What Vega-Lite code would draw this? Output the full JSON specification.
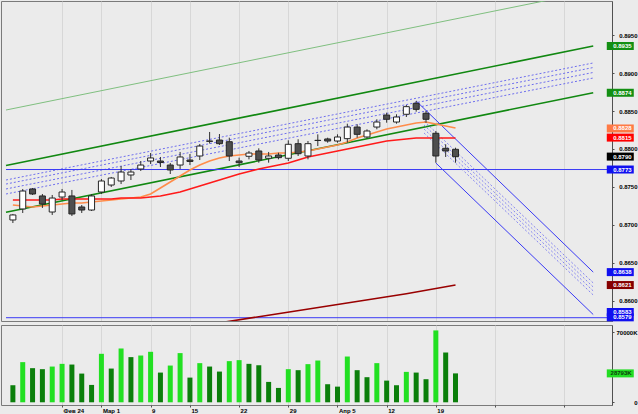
{
  "$schema": "https://vega.github.io/schema/vega-lite/v6.json",
  "background": "#ebebeb",
  "padding": 0,
  "spacing": 4,
  "bounds": "flush",
  "config": {
    "view": {"stroke": "#7a7a7a", "strokeWidth": 1},
    "font": "Liberation Sans",
    "axis": {"labelFont": "Liberation Sans", "labelFontWeight": "bold", "labelFontSize": 6, "labelColor": "#000000", "labelOverlap": false}
  },
  "resolve": {"scale": {"color": "independent"}},
  "datasets": {
    "candles": [
      {"i":0,"o":0.87066,"h":0.87145,"l":0.87026,"c":0.87132,"v":17000,"vd":"down","maf":0.87263,"mas":0.87329},
      {"i":1,"o":0.87211,"h":0.87474,"l":0.87158,"c":0.87447,"v":40000,"vd":"up","maf":0.87250,"mas":0.87329},
      {"i":2,"o":0.87474,"h":0.87487,"l":0.87395,"c":0.87408,"v":34000,"vd":"down","maf":0.87237,"mas":0.87329},
      {"i":3,"o":0.87382,"h":0.87408,"l":0.87224,"c":0.87276,"v":33000,"vd":"down","maf":0.87250,"mas":0.87329},
      {"i":4,"o":0.87171,"h":0.87395,"l":0.87132,"c":0.87355,"v":35600,"vd":"up","maf":0.87263,"mas":0.87329},
      {"i":5,"o":0.87368,"h":0.87474,"l":0.87329,"c":0.87434,"v":38300,"vd":"up","maf":0.87276,"mas":0.87342},
      {"i":6,"o":0.87382,"h":0.87461,"l":0.87118,"c":0.87145,"v":37600,"vd":"down","maf":0.87289,"mas":0.87342},
      {"i":7,"o":0.87237,"h":0.87263,"l":0.87158,"c":0.87197,"v":28600,"vd":"down","maf":0.87289,"mas":0.87342},
      {"i":8,"o":0.87197,"h":0.87408,"l":0.87184,"c":0.87382,"v":17300,"vd":"down","maf":0.87303,"mas":0.87342},
      {"i":9,"o":0.87434,"h":0.87605,"l":0.87408,"c":0.87579,"v":48300,"vd":"up","maf":0.87316,"mas":0.87342},
      {"i":10,"o":0.87526,"h":0.87632,"l":0.87500,"c":0.87618,"v":33600,"vd":"down","maf":0.87329,"mas":0.87342},
      {"i":11,"o":0.87579,"h":0.87776,"l":0.87539,"c":0.87697,"v":53600,"vd":"up","maf":0.87342,"mas":0.87355},
      {"i":12,"o":0.87658,"h":0.87737,"l":0.87592,"c":0.87697,"v":45000,"vd":"down","maf":0.87355,"mas":0.87355},
      {"i":13,"o":0.87737,"h":0.87842,"l":0.87711,"c":0.87789,"v":46600,"vd":"up","maf":0.87368,"mas":0.87355},
      {"i":14,"o":0.87842,"h":0.87947,"l":0.87803,"c":0.87882,"v":50300,"vd":"up","maf":0.87408,"mas":0.87368},
      {"i":15,"o":0.87842,"h":0.87895,"l":0.87763,"c":0.87822,"v":29600,"vd":"down","maf":0.87487,"mas":0.87382},
      {"i":16,"o":0.87789,"h":0.87816,"l":0.87671,"c":0.87724,"v":36600,"vd":"up","maf":0.87566,"mas":0.87408},
      {"i":17,"o":0.87789,"h":0.87961,"l":0.87737,"c":0.87895,"v":49000,"vd":"up","maf":0.87645,"mas":0.87434},
      {"i":18,"o":0.87855,"h":0.87934,"l":0.87789,"c":0.87836,"v":24600,"vd":"down","maf":0.87724,"mas":0.87474},
      {"i":19,"o":0.87908,"h":0.88066,"l":0.87855,"c":0.88039,"v":39000,"vd":"up","maf":0.87789,"mas":0.87513},
      {"i":20,"o":0.88105,"h":0.88224,"l":0.88072,"c":0.88101,"v":35600,"vd":"down","maf":0.87842,"mas":0.87553},
      {"i":21,"o":0.88118,"h":0.88197,"l":0.88053,"c":0.88070,"v":30600,"vd":"down","maf":0.87882,"mas":0.87592},
      {"i":22,"o":0.88096,"h":0.88149,"l":0.87842,"c":0.87908,"v":41000,"vd":"up","maf":0.87908,"mas":0.87632},
      {"i":23,"o":0.87842,"h":0.87886,"l":0.87763,"c":0.87820,"v":42000,"vd":"up","maf":0.87921,"mas":0.87671},
      {"i":24,"o":0.87904,"h":0.87974,"l":0.87864,"c":0.87947,"v":38300,"vd":"down","maf":0.87934,"mas":0.87704},
      {"i":25,"o":0.87974,"h":0.88009,"l":0.87820,"c":0.87855,"v":37000,"vd":"down","maf":0.87934,"mas":0.87737},
      {"i":26,"o":0.87878,"h":0.87961,"l":0.87820,"c":0.87908,"v":20300,"vd":"down","maf":0.87934,"mas":0.87763},
      {"i":27,"o":0.87921,"h":0.87951,"l":0.87864,"c":0.87886,"v":14300,"vd":"down","maf":0.87947,"mas":0.87789},
      {"i":28,"o":0.87878,"h":0.88114,"l":0.87842,"c":0.88062,"v":33000,"vd":"up","maf":0.87947,"mas":0.87816},
      {"i":29,"o":0.88070,"h":0.88128,"l":0.87908,"c":0.87938,"v":32000,"vd":"down","maf":0.87961,"mas":0.87855},
      {"i":30,"o":0.87908,"h":0.88105,"l":0.87864,"c":0.88070,"v":38000,"vd":"up","maf":0.87974,"mas":0.87895},
      {"i":31,"o":0.88114,"h":0.88193,"l":0.88039,"c":0.88112,"v":41600,"vd":"up","maf":0.88000,"mas":0.87921},
      {"i":32,"o":0.88132,"h":0.88149,"l":0.88083,"c":0.88105,"v":18000,"vd":"down","maf":0.88026,"mas":0.87947},
      {"i":33,"o":0.88105,"h":0.88193,"l":0.88083,"c":0.88158,"v":15600,"vd":"down","maf":0.88053,"mas":0.87974},
      {"i":34,"o":0.88136,"h":0.88333,"l":0.88083,"c":0.88289,"v":45600,"vd":"up","maf":0.88092,"mas":0.88000},
      {"i":35,"o":0.88289,"h":0.88325,"l":0.88149,"c":0.88193,"v":32000,"vd":"down","maf":0.88145,"mas":0.88026},
      {"i":36,"o":0.88158,"h":0.88259,"l":0.88141,"c":0.88237,"v":25000,"vd":"down","maf":0.88184,"mas":0.88053},
      {"i":37,"o":0.88289,"h":0.88391,"l":0.88259,"c":0.88355,"v":39000,"vd":"up","maf":0.88224,"mas":0.88079},
      {"i":38,"o":0.88447,"h":0.88478,"l":0.88346,"c":0.88391,"v":21600,"vd":"down","maf":0.88263,"mas":0.88105},
      {"i":39,"o":0.88355,"h":0.88457,"l":0.88333,"c":0.88421,"v":17000,"vd":"down","maf":0.88289,"mas":0.88118},
      {"i":40,"o":0.88457,"h":0.88579,"l":0.88421,"c":0.88557,"v":30300,"vd":"up","maf":0.88316,"mas":0.88132},
      {"i":41,"o":0.88601,"h":0.88632,"l":0.88491,"c":0.88522,"v":29600,"vd":"down","maf":0.88342,"mas":0.88145},
      {"i":42,"o":0.88470,"h":0.88500,"l":0.88346,"c":0.88391,"v":23000,"vd":"down","maf":0.88355,"mas":0.88145},
      {"i":43,"o":0.88207,"h":0.88237,"l":0.87820,"c":0.87908,"v":71600,"vd":"up","maf":0.88329,"mas":0.88145},
      {"i":44,"o":0.88009,"h":0.88062,"l":0.87895,"c":0.87974,"v":49600,"vd":"down","maf":0.88303,"mas":0.88145},
      {"i":45,"o":0.87996,"h":0.88017,"l":0.87820,"c":0.87899,"v":28793,"vd":"down","maf":0.88276,"mas":0.88145}
    ],
    "malong": [
      {"i":17,"p":0.85632},{"i":25,"p":0.85793},{"i":33,"p":0.85955},{"i":40,"p":0.86096},{"i":45,"p":0.86210}
    ],
    "lines": [
      {"id":"tl","k":"tl","i":-0.7,"p":0.88513},{"id":"tl","k":"tl","i":59,"p":0.90079},
      {"id":"gu","k":"gc","i":-0.7,"p":0.87782},{"id":"gu","k":"gc","i":59,"p":0.89355},
      {"id":"gl","k":"gc","i":-0.7,"p":0.87167},{"id":"gl","k":"gc","i":59,"p":0.88741},
      {"id":"bd1","k":"bd","i":-0.7,"p":0.87592},{"id":"bd1","k":"bd","i":59,"p":0.89132},
      {"id":"bd2","k":"bd","i":-0.7,"p":0.87539},{"id":"bd2","k":"bd","i":59,"p":0.89072},
      {"id":"bd3","k":"bd","i":-0.7,"p":0.87474},{"id":"bd3","k":"bd","i":59,"p":0.89007},
      {"id":"bd4","k":"bd","i":-0.7,"p":0.87408},{"id":"bd4","k":"bd","i":59,"p":0.88934},
      {"id":"bh1","k":"bh","i":-0.7,"p":0.8773},{"id":"bh1","k":"bh","i":60.4,"p":0.8773},
      {"id":"bh2","k":"bh","i":-0.7,"p":0.8578},{"id":"bh2","k":"bh","i":60.4,"p":0.8578},
      {"id":"du","k":"ds","i":41,"p":0.88632},{"id":"du","k":"ds","i":59,"p":0.8638},
      {"id":"dl","k":"ds","i":43,"p":0.87816},{"id":"dl","k":"ds","i":59,"p":0.85822},
      {"id":"dd1","k":"dd","i":41.8,"p":0.88368},{"id":"dd1","k":"dd","i":59,"p":0.86237},
      {"id":"dd2","k":"dd","i":41.8,"p":0.88316},{"id":"dd2","k":"dd","i":59,"p":0.86184},
      {"id":"dd3","k":"dd","i":41.8,"p":0.88263},{"id":"dd3","k":"dd","i":59,"p":0.86132},
      {"id":"dd4","k":"dd","i":41.8,"p":0.88211},{"id":"dd4","k":"dd","i":59,"p":0.86079}
    ],
    "boxes": [
      {"p":0.89355,"label":"0.8935","b":"green"},
      {"p":0.8874,"label":"0.8874","b":"green"},
      {"p":0.8827,"label":"0.8828","b":"orange"},
      {"p":0.8815,"label":"0.8815","b":"red"},
      {"p":0.8790,"label":"0.8790","b":"black"},
      {"p":0.8773,"label":"0.8773","b":"blue"},
      {"p":0.8638,"label":"0.8638","b":"blue"},
      {"p":0.8621,"label":"0.8621","b":"darkred"},
      {"p":0.85855,"label":"0.8583","b":"blue"},
      {"p":0.85785,"label":"0.8579","b":"blue"}
    ],
    "vbox": [{"v":28793,"label":"28793K"}]
  },
  "vconcat": [
    {
      "width": 611,
      "height": 320,
      "layer": [
        {
          "data": {"name": "lines"},
          "transform": [{"filter": "datum.k == 'tl'"}],
          "mark": {"type": "line", "color": "#7fbf7f", "strokeWidth": 1, "clip": true},
          "encoding": {
            "x": {"field": "i", "type": "quantitative", "scale": {"domain": [-0.7, 60.4], "nice": false, "zero": false},
              "axis": {"orient": "bottom", "values": [5, 9, 14, 18, 23, 28, 33, 38, 43, 49, 56], "labels": false, "ticks": false, "domain": false, "grid": true, "gridColor": "#c2c2c2", "gridDash": [1, 1], "title": null}},
            "y": {"field": "p", "type": "quantitative", "scale": {"domain": [0.857368, 0.899474], "nice": false, "zero": false},
              "axis": {"orient": "right", "values": [0.895, 0.89, 0.885, 0.88, 0.875, 0.87, 0.865, 0.86], "format": ".4f", "grid": false, "domain": true, "domainColor": "#505050", "ticks": true, "tickSize": 2, "tickColor": "#505050", "labelAlign": "right", "labelPadding": 23, "labelBaseline": "middle", "labelOverlap": false, "title": null}},
            "detail": {"field": "id"}
          }
        },
        {
          "data": {"name": "lines"},
          "transform": [{"filter": "datum.k == 'gc'"}],
          "mark": {"type": "line", "color": "#118811", "strokeWidth": 1.6, "clip": true},
          "encoding": {
            "x": {"field": "i", "type": "quantitative", "scale": {"domain": [-0.7, 60.4], "nice": false, "zero": false}},
            "y": {"field": "p", "type": "quantitative", "scale": {"domain": [0.857368, 0.899474], "nice": false, "zero": false}},
            "detail": {"field": "id"}
          }
        },
        {
          "data": {"name": "lines"},
          "transform": [{"filter": "datum.k == 'bd'"}],
          "mark": {"type": "line", "color": "#6e6eee", "strokeWidth": 1, "strokeDash": [2, 2], "clip": true},
          "encoding": {
            "x": {"field": "i", "type": "quantitative", "scale": {"domain": [-0.7, 60.4], "nice": false, "zero": false}},
            "y": {"field": "p", "type": "quantitative", "scale": {"domain": [0.857368, 0.899474], "nice": false, "zero": false}},
            "detail": {"field": "id"}
          }
        },
        {
          "data": {"name": "lines"},
          "transform": [{"filter": "datum.k == 'bh' || datum.k == 'ds'"}],
          "mark": {"type": "line", "color": "#3a3af5", "strokeWidth": 1, "clip": true},
          "encoding": {
            "x": {"field": "i", "type": "quantitative", "scale": {"domain": [-0.7, 60.4], "nice": false, "zero": false}},
            "y": {"field": "p", "type": "quantitative", "scale": {"domain": [0.857368, 0.899474], "nice": false, "zero": false}},
            "detail": {"field": "id"}
          }
        },
        {
          "data": {"name": "lines"},
          "transform": [{"filter": "datum.k == 'dd'"}],
          "mark": {"type": "line", "color": "#8484f0", "strokeWidth": 1, "strokeDash": [2, 2], "clip": true},
          "encoding": {
            "x": {"field": "i", "type": "quantitative", "scale": {"domain": [-0.7, 60.4], "nice": false, "zero": false}},
            "y": {"field": "p", "type": "quantitative", "scale": {"domain": [0.857368, 0.899474], "nice": false, "zero": false}},
            "detail": {"field": "id"}
          }
        },
        {
          "data": {"name": "malong"},
          "mark": {"type": "line", "color": "#990000", "strokeWidth": 1.6, "clip": true},
          "encoding": {
            "x": {"field": "i", "type": "quantitative", "scale": {"domain": [-0.7, 60.4], "nice": false, "zero": false}},
            "y": {"field": "p", "type": "quantitative", "scale": {"domain": [0.857368, 0.899474], "nice": false, "zero": false}}
          }
        },
        {
          "data": {"name": "candles"},
          "mark": {"type": "line", "color": "#ff8c4a", "strokeWidth": 1.6, "clip": true},
          "encoding": {
            "x": {"field": "i", "type": "quantitative", "scale": {"domain": [-0.7, 60.4], "nice": false, "zero": false}},
            "y": {"field": "maf", "type": "quantitative", "scale": {"domain": [0.857368, 0.899474], "nice": false, "zero": false}}
          }
        },
        {
          "data": {"name": "candles"},
          "mark": {"type": "line", "color": "#ff1a1a", "strokeWidth": 1.6, "clip": true},
          "encoding": {
            "x": {"field": "i", "type": "quantitative", "scale": {"domain": [-0.7, 60.4], "nice": false, "zero": false}},
            "y": {"field": "mas", "type": "quantitative", "scale": {"domain": [0.857368, 0.899474], "nice": false, "zero": false}}
          }
        },
        {
          "data": {"name": "candles"},
          "mark": {"type": "rule", "color": "#303030", "strokeWidth": 1},
          "encoding": {
            "x": {"field": "i", "type": "quantitative", "scale": {"domain": [-0.7, 60.4], "nice": false, "zero": false}},
            "y": {"field": "l", "type": "quantitative", "scale": {"domain": [0.857368, 0.899474], "nice": false, "zero": false}},
            "y2": {"field": "h"}
          }
        },
        {
          "data": {"name": "candles"},
          "mark": {"type": "bar", "size": 6, "stroke": "#262626", "strokeWidth": 1},
          "encoding": {
            "x": {"field": "i", "type": "quantitative", "scale": {"domain": [-0.7, 60.4], "nice": false, "zero": false}},
            "y": {"field": "o", "type": "quantitative", "scale": {"domain": [0.857368, 0.899474], "nice": false, "zero": false}},
            "y2": {"field": "c"},
            "fill": {"condition": {"test": "datum.c >= datum.o", "value": "#ffffff"}, "value": "#4e4e4e"}
          }
        },
        {
          "data": {"name": "boxes"},
          "mark": {"type": "rect", "width": 27, "height": 8, "clip": false},
          "encoding": {
            "x": {"datum": 61.75, "type": "quantitative", "scale": {"domain": [-0.7, 60.4], "nice": false, "zero": false}},
            "y": {"field": "p", "type": "quantitative", "scale": {"domain": [0.857368, 0.899474], "nice": false, "zero": false}},
            "color": {"field": "b", "type": "nominal", "legend": null,
              "scale": {"domain": ["green", "orange", "red", "black", "blue", "darkred"], "range": ["#138f13", "#ff7a45", "#ff0000", "#000000", "#1010f0", "#860000"]}}
          }
        },
        {
          "data": {"name": "boxes"},
          "mark": {"type": "text", "align": "right", "baseline": "middle", "fontSize": 6, "fontWeight": "bold", "font": "Liberation Sans", "color": "#ffffff", "clip": false},
          "encoding": {
            "x": {"datum": 62.9, "type": "quantitative", "scale": {"domain": [-0.7, 60.4], "nice": false, "zero": false}},
            "y": {"field": "p", "type": "quantitative", "scale": {"domain": [0.857368, 0.899474], "nice": false, "zero": false}},
            "text": {"field": "label"}
          }
        },
        {
          "mark": {"type": "rect", "fill": "#ffffff", "stroke": "#000000", "strokeWidth": 1},
          "encoding": {
            "x": {"datum": -0.65, "type": "quantitative", "scale": {"domain": [-0.7, 60.4], "nice": false, "zero": false}},
            "x2": {"datum": 0.75},
            "y": {"datum": 0.89940, "type": "quantitative", "scale": {"domain": [0.857368, 0.899474], "nice": false, "zero": false}},
            "y2": {"datum": 0.89862}
          }
        },
        {
          "mark": {"type": "text", "align": "left", "baseline": "middle", "fontSize": 6, "fontWeight": "bold", "font": "Liberation Sans", "color": "#000000"},
          "encoding": {
            "x": {"datum": -0.5, "type": "quantitative", "scale": {"domain": [-0.7, 60.4], "nice": false, "zero": false}},
            "y": {"datum": 0.89901, "type": "quantitative", "scale": {"domain": [0.857368, 0.899474], "nice": false, "zero": false}},
            "text": {"value": "Data"}
          }
        }
      ]
    },
    {
      "width": 611,
      "height": 80,
      "layer": [
        {
          "data": {"name": "candles"},
          "mark": {"type": "bar", "size": 5},
          "encoding": {
            "x": {"field": "i", "type": "quantitative", "scale": {"domain": [-0.7, 60.4], "nice": false, "zero": false},
              "axis": {"orient": "bottom", "values": [5, 9, 14, 18, 23, 28, 33, 38, 43, 49, 56], "grid": true, "gridColor": "#c2c2c2", "gridDash": [1, 1], "domain": false, "ticks": true, "tickSize": 2, "tickColor": "#505050", "labelAlign": "left", "labelOffset": 1, "labelPadding": 0, "labelBaseline": "top", "labelFontSize": 6, "labelOverlap": false, "labelFlush": false,
                "labelExpr": "datum.value == 5 ? 'Фев 24' : datum.value == 9 ? 'Мар 1' : datum.value == 14 ? '9' : datum.value == 18 ? '15' : datum.value == 23 ? '22' : datum.value == 28 ? '29' : datum.value == 33 ? 'Апр 5' : datum.value == 38 ? '12' : datum.value == 43 ? '19' : ''", "title": null}},
            "y": {"field": "v", "type": "quantitative", "scale": {"domain": [-2700, 77000], "nice": false, "zero": false},
              "axis": {"orient": "right", "values": [70000, 50000, 10000, 0], "labelExpr": "datum.value == 0 ? '0' : format(datum.value, 'd') + 'K'", "grid": false, "domain": true, "domainColor": "#505050", "ticks": true, "tickSize": 2, "tickColor": "#505050", "labelAlign": "right", "labelPadding": 23, "labelBaseline": "middle", "labelOverlap": false, "labelFlush": false, "title": null}},
            "y2": {"datum": 0},
            "color": {"field": "vd", "type": "nominal", "legend": null, "scale": {"domain": ["up", "down"], "range": ["#22e022", "#0b7f0b"]}}
          }
        },
        {
          "data": {"name": "vbox"},
          "mark": {"type": "rect", "width": 27, "height": 8, "color": "#22dd22", "clip": false},
          "encoding": {
            "x": {"datum": 61.75, "type": "quantitative", "scale": {"domain": [-0.7, 60.4], "nice": false, "zero": false}},
            "y": {"field": "v", "type": "quantitative", "scale": {"domain": [-2700, 77000], "nice": false, "zero": false}}
          }
        },
        {
          "data": {"name": "vbox"},
          "mark": {"type": "text", "align": "right", "baseline": "middle", "fontSize": 6, "fontWeight": "bold", "font": "Liberation Sans", "color": "#0a3a0a", "clip": false},
          "encoding": {
            "x": {"datum": 62.9, "type": "quantitative", "scale": {"domain": [-0.7, 60.4], "nice": false, "zero": false}},
            "y": {"field": "v", "type": "quantitative", "scale": {"domain": [-2700, 77000], "nice": false, "zero": false}},
            "text": {"field": "label"}
          }
        },
        {
          "mark": {"type": "rect", "fill": "#ffffff", "stroke": "#000000", "strokeWidth": 1},
          "encoding": {
            "x": {"datum": -0.65, "type": "quantitative", "scale": {"domain": [-0.7, 60.4], "nice": false, "zero": false}},
            "x2": {"datum": 1.5},
            "y": {"datum": 76500, "type": "quantitative", "scale": {"domain": [-2700, 77000], "nice": false, "zero": false}},
            "y2": {"datum": 70200}
          }
        },
        {
          "mark": {"type": "text", "align": "left", "baseline": "middle", "fontSize": 6, "fontWeight": "bold", "font": "Liberation Sans", "color": "#000000"},
          "encoding": {
            "x": {"datum": -0.5, "type": "quantitative", "scale": {"domain": [-0.7, 60.4], "nice": false, "zero": false}},
            "y": {"datum": 73300, "type": "quantitative", "scale": {"domain": [-2700, 77000], "nice": false, "zero": false}},
            "text": {"value": "Volume"}
          }
        }
      ]
    }
  ]
}
